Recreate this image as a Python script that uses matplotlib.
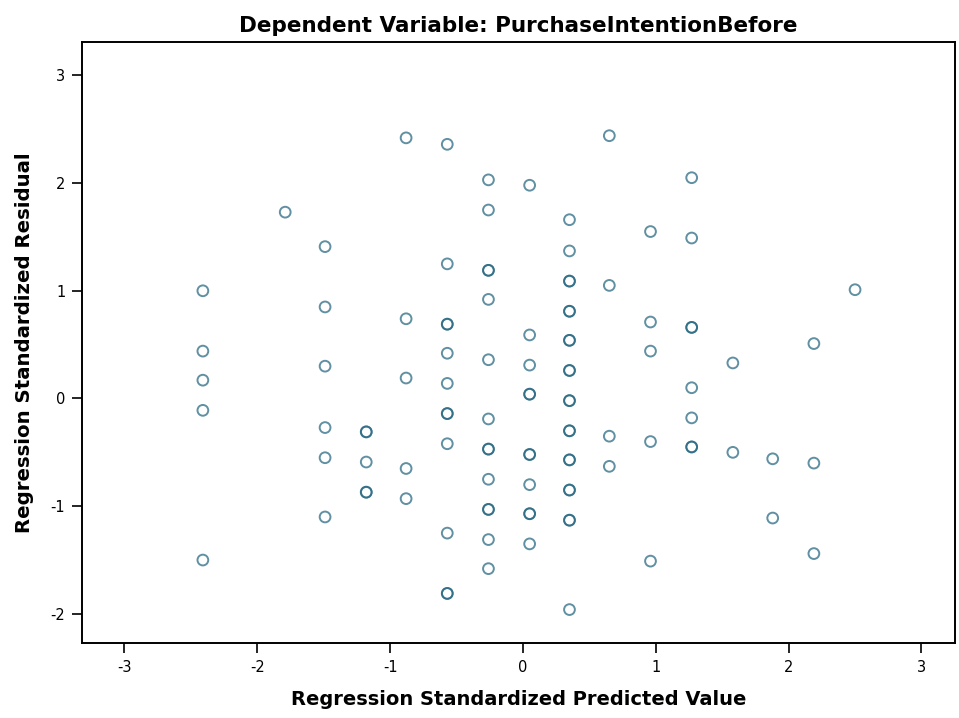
import numpy as np
import matplotlib.pyplot as plt

# predicted value columns and their residuals (repeated entries = overlapping cases)
col_x = [-2.41, -1.79, -1.49, -1.18, -0.88, -0.57, -0.26, 0.05, 0.35, 0.65, 0.96, 1.27, 1.58, 1.88, 2.19, 2.50]
col_res = [
    [1.00, 0.44, 0.17, -0.11, -1.50],
    [1.73],
    [1.41, 0.85, 0.30, -0.27, -0.55, -1.10],
    [-0.31, -0.31, -0.59, -0.87, -0.87],
    [2.42, 0.74, 0.19, -0.65, -0.93],
    [2.36, 1.25, 0.69, 0.69, 0.42, 0.14, -0.14, -0.14, -0.42, -1.25, -1.81, -1.81],
    [2.03, 1.75, 1.19, 1.19, 0.92, 0.36, -0.19, -0.47, -0.47, -0.75, -1.03, -1.03, -1.31, -1.58],
    [1.98, 0.59, 0.31, 0.04, 0.04, -0.52, -0.52, -0.80, -1.07, -1.07, -1.35],
    [1.66, 1.37, 1.09, 1.09, 0.81, 0.81, 0.54, 0.54, 0.26, 0.26, -0.02, -0.02,
     -0.30, -0.30, -0.57, -0.57, -0.85, -0.85, -1.13, -1.13, -1.96],
    [2.44, 1.05, -0.35, -0.63],
    [1.55, 0.71, 0.44, -0.40, -1.51],
    [2.05, 1.49, 0.66, 0.66, 0.10, -0.18, -0.45, -0.45],
    [0.33, -0.50],
    [-0.56, -1.11],
    [0.51, -0.60, -1.44],
    [1.01],
]

x = []
y = []
for cx, res in zip(col_x, col_res):
    for r in res:
        x.append(cx)
        y.append(r)

fig = plt.figure(figsize=(9.59, 7.18), dpi=100)
ax = fig.add_axes([0.0855, 0.1045, 0.910, 0.837])

ax.scatter(x, y, s=60, facecolors='none', edgecolors='#23657f', linewidths=1.4, alpha=0.72)

ax.set_xlim(-3.32, 3.25)
ax.set_ylim(-2.27, 3.31)
ax.set_xticks([-3, -2, -1, 0, 1, 2, 3])
ax.set_yticks([-2, -1, 0, 1, 2, 3])
ax.set_xticklabels(['-3', '-2', '-1', '0', '1', '2', '3'])
ax.set_yticklabels(['-2', '-1', '0', '1', '2', '3'])
ax.tick_params(direction='out', length=7, width=1.2, labelsize=10.5, pad=5)
for sp in ax.spines.values():
    sp.set_linewidth(1.4)

ax.set_title('Dependent Variable: PurchaseIntentionBefore', fontsize=15.5, fontweight='bold', pad=7)
ax.set_xlabel('Regression Standardized Predicted Value', fontsize=14, fontweight='bold', labelpad=11)
ax.set_ylabel('Regression Standardized Residual', fontsize=14.2, fontweight='bold', labelpad=12)

fig.savefig('out.png', dpi=100)
